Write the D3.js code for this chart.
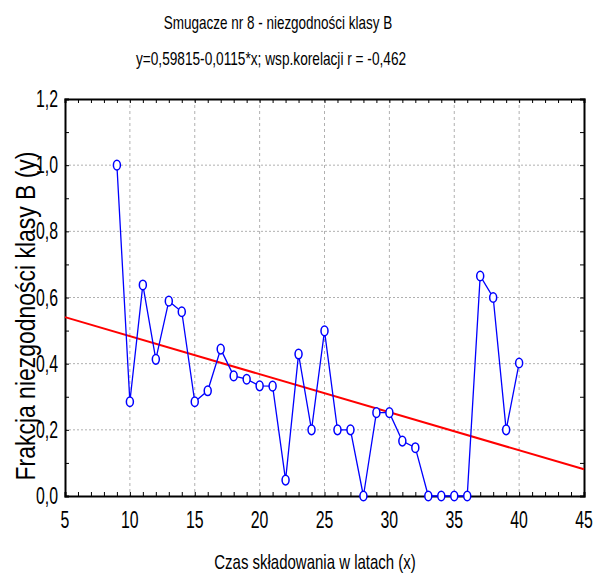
<!DOCTYPE html>
<html>
<head>
<meta charset="utf-8">
<script src="https://cdn.jsdelivr.net/npm/d3@7"></script>
<style>
  body { margin: 0; background: #fff; }
  svg text { font-family: "Liberation Sans", Arial, sans-serif; fill: #000; }
</style>
</head>
<body>
<svg id="chart" width="595" height="574"></svg>
<script>
// data
var years = [9, 10, 11, 12, 13, 14, 15, 16, 17, 18, 19, 20, 21, 22, 23, 24,
             25, 26, 27, 28, 29, 30, 31, 32, 33, 34, 35, 36, 37, 38, 39, 40];
var fraction = [1.0, 0.285, 0.638, 0.413, 0.589, 0.557, 0.285, 0.318, 0.444, 0.363, 0.353, 0.333,
                0.332, 0.048, 0.429, 0.2, 0.499, 0.2, 0.2, 0.0, 0.252, 0.252, 0.166, 0.146,
                0.0, 0.0, 0.0, 0.0, 0.665, 0.6, 0.2, 0.402];
var fitA = 0.59815, fitB = -0.0115;
var xTicks = [5, 10, 15, 20, 25, 30, 35, 40, 45];
var yTicks = [0, 0.2, 0.4, 0.6, 0.8, 1.0, 1.2];

var svg = d3.select('#chart');
var margin = { top: 99, right: 11, bottom: 78, left: 65 },
    width = 595 - margin.left - margin.right,
    height = 574 - margin.top - margin.bottom;

var x = d3.scaleLinear().domain([5, 45]).range([0, width]);
var y = d3.scaleLinear().domain([0, 1.2]).range([height, 0]);
var fmt = function(d) { return d3.format('.1f')(d).replace('.', ','); };

// no narrow font installed: place text at (px,py) and squeeze it with scale(k,1)
function narrowText(parent, px, py, k, rot) {
  return parent.append('text')
      .attr('transform', 'translate(' + px + ',' + py + ')' + (rot ? ' rotate(' + rot + ')' : '') + ' scale(' + k + ',1)');
}

var g = svg.append('g')
    .attr('transform', 'translate(' + margin.left + ',' + margin.top + ')');

//grid
g.selectAll('.vgrid').data(xTicks.slice(1, -1)).enter().append('line')
    .attr('x1', x).attr('x2', x).attr('y1', 0).attr('y2', height)
    .attr('stroke', '#b0b0b0').attr('stroke-dasharray', '3,3');
g.selectAll('.hgrid').data(yTicks.slice(1, -1)).enter().append('line')
    .attr('y1', y).attr('y2', y).attr('x1', 0).attr('x2', width)
    .attr('stroke', '#b0b0b0').attr('stroke-dasharray', '2,2');

//axes with inward ticks on all sides
var xMinor = d3.range(5, 46, 1), yMinor = d3.range(0, 1.21, 0.1);
g.append('g').attr('transform', 'translate(0,' + height + ')')
    .call(d3.axisBottom(x).tickValues(xMinor).tickSize(-4).tickFormat(''));
g.append('g')
    .call(d3.axisTop(x).tickValues(xMinor).tickSize(-4).tickFormat(''));
g.append('g')
    .call(d3.axisLeft(y).tickValues(yMinor).tickSize(-4).tickFormat(''));
g.append('g').attr('transform', 'translate(' + width + ',0)')
    .call(d3.axisRight(y).tickValues(yMinor).tickSize(-4).tickFormat(''));
g.selectAll('.domain').attr('stroke', '#000').attr('stroke-width', 2);
g.selectAll('.tick line').attr('stroke', '#000').attr('stroke-width', 1);

//tick labels
xTicks.forEach(function(d) {
  narrowText(g, x(d), height + 32, 0.66)
      .attr('text-anchor', 'middle').attr('font-size', 24).text(d);
});
yTicks.forEach(function(d) {
  narrowText(g, -7, y(d) + 8, 0.66)
      .attr('text-anchor', 'end').attr('font-size', 24).text(fmt(d));
});

//regression line
g.append('line')
    .attr('x1', x(5)).attr('y1', y(fitA + fitB * 5))
    .attr('x2', x(45)).attr('y2', y(fitA + fitB * 45))
    .attr('stroke', '#ff0000').attr('stroke-width', 2);

//data line
var pts = years.map(function(d, i) { return [d, fraction[i]]; });
g.append('path').datum(pts)
    .attr('fill', 'none').attr('stroke', '#0000ff').attr('stroke-width', 1.3)
    .attr('d', d3.line().x(function(d) { return x(d[0]); }).y(function(d) { return y(d[1]); }));
g.selectAll('.pt').data(pts).enter().append('ellipse')
    .attr('cx', function(d) { return x(d[0]); })
    .attr('cy', function(d) { return y(d[1]); })
    .attr('rx', 3.5).attr('ry', 4.8)
    .attr('fill', '#fff').attr('stroke', '#0000ff').attr('stroke-width', 1.5);

//titles
narrowText(svg, 278, 29, 0.75).attr('text-anchor', 'middle')
    .attr('font-size', 18).text('Smugacze nr 8 - niezgodności klasy B');
narrowText(svg, 271, 65, 0.76).attr('text-anchor', 'middle')
    .attr('font-size', 18).text('y=0,59815-0,0115*x; wsp.korelacji r = -0,462');
narrowText(svg, 315, 569, 0.75).attr('text-anchor', 'middle')
    .attr('font-size', 20).text('Czas składowania w latach (x)');
narrowText(svg, 35, 316, 0.85, -90).attr('text-anchor', 'middle')
    .attr('font-size', 27).text('Frakcja niezgodności klasy B (y)');
</script>
</body>
</html>
